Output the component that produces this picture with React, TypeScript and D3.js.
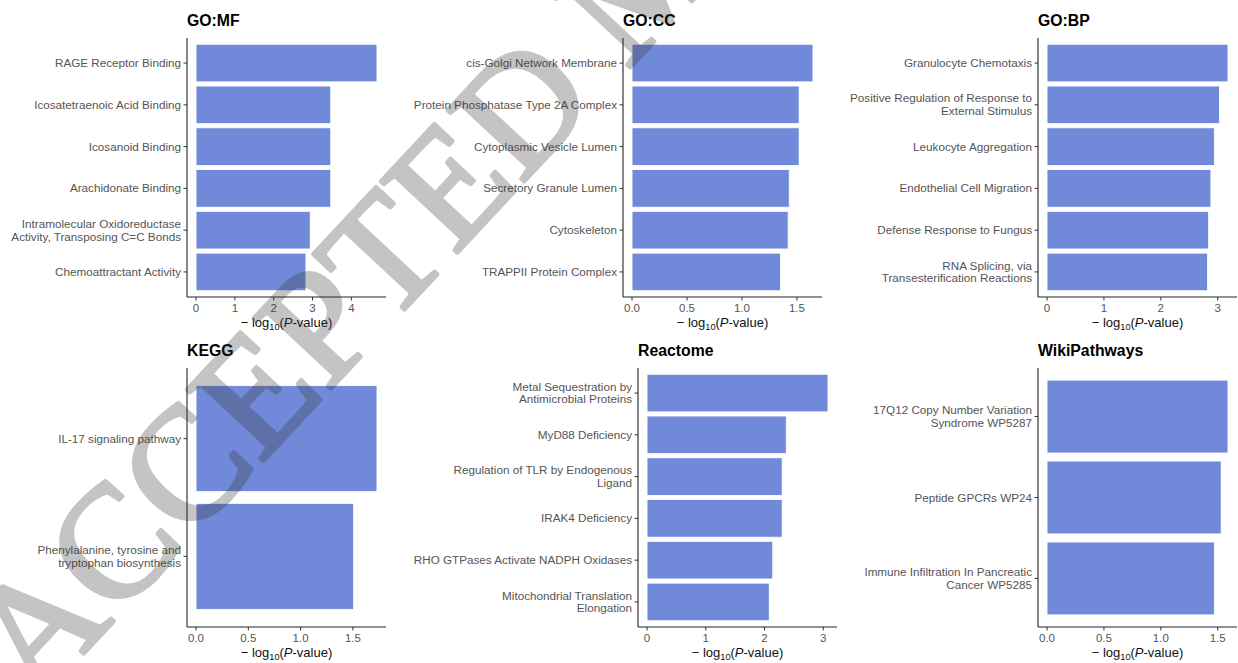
import React from "react";
import * as d3 from "d3";

// ---- Enrichment results: term labels ("\n" = line break) and -log10(P) ----
const mfTerms = [
  "RAGE Receptor Binding",
  "Icosatetraenoic Acid Binding",
  "Icosanoid Binding",
  "Arachidonate Binding",
  "Intramolecular Oxidoreductase\nActivity, Transposing C=C Bonds",
  "Chemoattractant Activity",
];
const mfValues = [4.66, 3.47, 3.47, 3.47, 2.94, 2.83];
const mfTicks = [0, 1, 2, 3, 4];

const ccTerms = [
  "cis-Golgi Network Membrane",
  "Protein Phosphatase Type 2A Complex",
  "Cytoplasmic Vesicle Lumen",
  "Secretory Granule Lumen",
  "Cytoskeleton",
  "TRAPPII Protein Complex",
];
const ccValues = [1.646, 1.52, 1.52, 1.43, 1.42, 1.35];
const ccTicks = [0, 0.5, 1, 1.5];

const bpTerms = [
  "Granulocyte Chemotaxis",
  "Positive Regulation of Response to\nExternal Stimulus",
  "Leukocyte Aggregation",
  "Endothelial Cell Migration",
  "Defense Response to Fungus",
  "RNA Splicing, via\nTransesterification Reactions",
];
const bpValues = [3.18, 3.03, 2.94, 2.88, 2.84, 2.82];
const bpTicks = [0, 1, 2, 3];

const keggTerms = [
  "IL-17 signaling pathway",
  "Phenylalanine, tyrosine and\ntryptophan biosynthesis",
];
const keggValues = [1.73, 1.506];
const keggTicks = [0, 0.5, 1, 1.5];

const reactomeTerms = [
  "Metal Sequestration by\nAntimicrobial Proteins",
  "MyD88 Deficiency",
  "Regulation of TLR by Endogenous\nLigand",
  "IRAK4 Deficiency",
  "RHO GTPases Activate NADPH Oxidases",
  "Mitochondrial Translation\nElongation",
];
const reactomeValues = [3.08, 2.37, 2.3, 2.3, 2.14, 2.08];
const reactomeTicks = [0, 1, 2, 3];

const wikiTerms = [
  "17Q12 Copy Number Variation\nSyndrome WP5287",
  "Peptide GPCRs WP24",
  "Immune Infiltration In Pancreatic\nCancer WP5285",
];
const wikiValues = [1.59, 1.53, 1.47];
const wikiTicks = [0, 0.5, 1, 1.5];

const panelTitles = ["GO:MF", "GO:CC", "GO:BP", "KEGG", "Reactome", "WikiPathways"];

// ---- layout ----
const W = 1238;
const H = 663;
const PANEL_W = 199;
const PANEL_H = 259;
const BAR_FILL = "#7089d9";
const SANS = "'Liberation Sans', Arial, Helvetica, sans-serif";

type PanelSpec = {
  title: string;
  terms: string[];
  values: number[];
  ticks: number[];
  fmt: (v: number) => string;
  left: number;
  top: number;
};

const intFmt = d3.format("d");
const oneFmt = d3.format(".1f");

const panels: PanelSpec[] = [
  { title: panelTitles[0], terms: mfTerms, values: mfValues, ticks: mfTicks, fmt: intFmt, left: 187, top: 38 },
  { title: panelTitles[1], terms: ccTerms, values: ccValues, ticks: ccTicks, fmt: oneFmt, left: 623, top: 38 },
  { title: panelTitles[2], terms: bpTerms, values: bpValues, ticks: bpTicks, fmt: intFmt, left: 1038, top: 38 },
  { title: panelTitles[3], terms: keggTerms, values: keggValues, ticks: keggTicks, fmt: oneFmt, left: 187, top: 368 },
  { title: panelTitles[4], terms: reactomeTerms, values: reactomeValues, ticks: reactomeTicks, fmt: intFmt, left: 638, top: 368 },
  { title: panelTitles[5], terms: wikiTerms, values: wikiValues, ticks: wikiTicks, fmt: oneFmt, left: 1038, top: 368 },
];

function Panel({ p }: { p: PanelSpec }) {
  const max = d3.max(p.values) as number;
  const x = d3
    .scaleLinear()
    .domain([-0.05 * max, 1.05 * max])
    .range([p.left, p.left + PANEL_W]);
  const y = d3
    .scaleBand<string>()
    .domain(p.terms)
    .range([p.top, p.top + PANEL_H])
    .paddingInner(0.1)
    .paddingOuter(0.15);
  const bottom = p.top + PANEL_H;
  const lineH = 12.7;

  return (
    <g>
      <text
        x={p.left}
        y={p.top - 12}
        fontFamily={SANS}
        fontWeight="bold"
        fontSize={15.8}
        fill="#000"
      >
        {p.title}
      </text>

      {p.terms.map((t, i) => (
        <rect
          key={t}
          x={x(0)}
          y={y(t)}
          width={x(p.values[i]) - x(0)}
          height={y.bandwidth()}
          fill={BAR_FILL}
          stroke="#ffffff"
          strokeWidth={0.8}
        />
      ))}

      {/* y axis */}
      <line x1={p.left} x2={p.left} y1={p.top} y2={bottom} stroke="#222" strokeWidth={1.1} />
      {p.terms.map((t) => {
        const cy = (y(t) as number) + y.bandwidth() / 2;
        const lines = t.split("\n");
        const y0 = cy - ((lines.length - 1) * lineH) / 2 + 4;
        return (
          <g key={t}>
            <line x1={p.left - 3.5} x2={p.left} y1={cy} y2={cy} stroke="#333" strokeWidth={1} />
            <text
              x={p.left - 6}
              textAnchor="end"
              fontFamily={SANS}
              fontSize={11.7}
              fill="#555"
            >
              {lines.map((ln, j) => (
                <tspan key={j} x={p.left - 6} y={y0 + j * lineH}>
                  {ln}
                </tspan>
              ))}
            </text>
          </g>
        );
      })}

      {/* x axis */}
      <line x1={p.left} x2={p.left + PANEL_W} y1={bottom} y2={bottom} stroke="#222" strokeWidth={1.1} />
      {p.ticks.map((tv) => (
        <g key={tv}>
          <line x1={x(tv)} x2={x(tv)} y1={bottom} y2={bottom + 3.5} stroke="#333" strokeWidth={1} />
          <text
            x={x(tv)}
            y={bottom + 15}
            textAnchor="middle"
            fontFamily={SANS}
            fontSize={11.5}
            fill="#555"
          >
            {p.fmt(tv)}
          </text>
        </g>
      ))}
      <text
        x={p.left + PANEL_W / 2}
        y={bottom + 30}
        textAnchor="middle"
        fontFamily={SANS}
        fontSize={13}
        fill="#111"
      >
        <tspan>{"\u2212 log"}</tspan>
        <tspan fontSize={9.2} dy={3}>10</tspan>
        <tspan dy={-3}>(</tspan>
        <tspan fontStyle="italic">P</tspan>
        <tspan>-value)</tspan>
      </text>
    </g>
  );
}

export default function App() {
  return (
    <svg
      width={W}
      height={H}
      viewBox={`0 0 ${W} ${H}`}
      style={{ position: "absolute", left: 0, top: 0, display: "block", background: "#fff" }}
    >
      <rect x={0} y={0} width={W} height={H} fill="#ffffff" />
      {panels.map((p) => (
        <Panel key={p.title} p={p} />
      ))}
      {/* diagonal manuscript stamp laid over the figure */}
      <g opacity={0.29}>
        <text
          transform="translate(36,705) rotate(-47)"
          fontFamily="'Liberation Serif', 'Times New Roman', serif"
          fontSize={160}
          fill="#363636"
          stroke="#363636"
          strokeWidth={4}
          strokeLinejoin="round"
        >
          ACCEPTED MANUSCRIPT
        </text>
      </g>
    </svg>
  );
}
